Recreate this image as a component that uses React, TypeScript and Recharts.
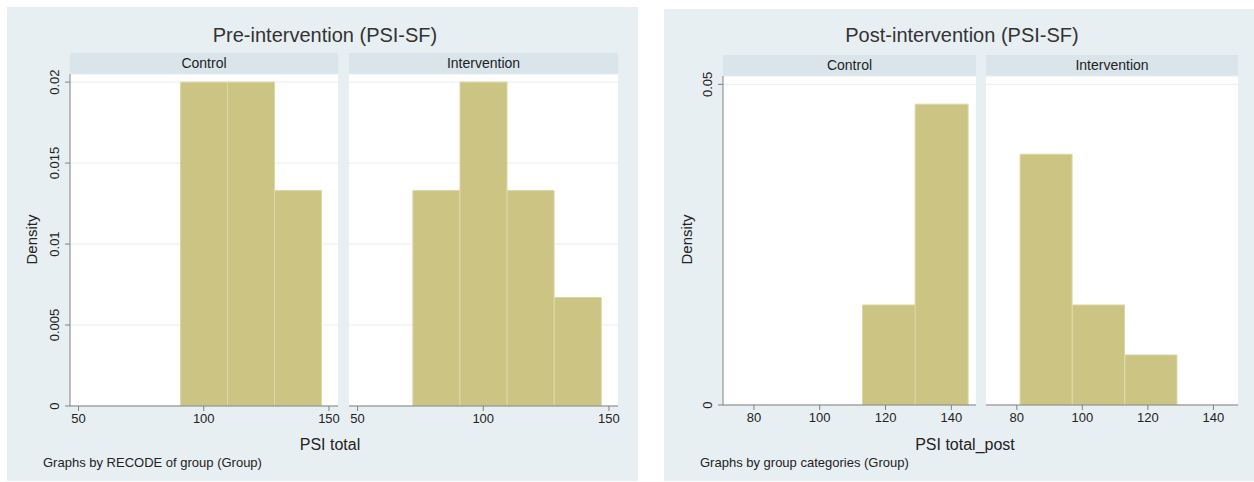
import React from 'react';
import { BarChart, Bar, XAxis, YAxis, CartesianGrid } from 'recharts';

// histogram bins (midpoints) and densities
const preBins = [81.375, 100.125, 118.875, 137.625];
const preControl = [0, 0.02, 0.02, 0.0133];
const preIntervention = [0.0133, 0.02, 0.0133, 0.0067];
const postBins = [89, 105, 121, 137];
const postControl = [0, 0, 0.0156, 0.0469];
const postIntervention = [0.0391, 0.0156, 0.0078, 0];

const preTicksX = [50, 100, 150];
const postTicksX = [80, 100, 120, 140];
const preTicksY = [0, 0.005, 0.01, 0.015, 0.02];
const postTicksY = [0, 0.05];
const groups = ['Control', 'Intervention'];

const font = '"Liberation Sans", Arial, Helvetica, sans-serif';
const cardBg = '#e8eff2';
const stripBg = '#d9e5eb';
const barFill = '#cbc482';
const barEdge = '#dcd7a6';
const axisCol = '#808080';
const MT = 14; // room above plot so top tick label isn't cut

const YTick = (props: any) => {
  const { x, y, payload } = props;
  return (
    <text x={x} y={y} transform={`rotate(-90 ${x} ${y})`} textAnchor="middle" fontSize={13} fill="#222" fontFamily={font}>
      {String(payload.value)}
    </text>
  );
};

function Facet({ plotLeft, plotTop, plotW, plotH, bins, values, xDomain, xTicks, yDomain, yTicks, showY }: any) {
  const yw = showY ? 60 : 0;
  const data = bins.map((b: number, i: number) => ({ mid: b, density: values[i] }));
  return (
    <div style={{ position: 'absolute', left: plotLeft - yw, top: plotTop - MT }}>
      <BarChart
        width={yw + plotW + 12}
        height={MT + plotH + 34}
        data={data}
        margin={{ top: MT, right: 12, left: 0, bottom: 0 }}
        barCategoryGap={0}
        barGap={0}
      >
        <CartesianGrid vertical={false} stroke="#e6eef1" fill="#ffffff" />
        <XAxis
          dataKey="mid"
          type="number"
          domain={xDomain}
          ticks={xTicks}
          allowDataOverflow
          height={34}
          tickSize={5}
          tickMargin={3}
          stroke={axisCol}
          tick={{ fontSize: 13, fill: '#222', fontFamily: font }}
          interval={0}
        />
        <YAxis
          hide={!showY}
          type="number"
          domain={yDomain}
          ticks={yTicks}
          allowDataOverflow
          width={yw}
          tickSize={5}
          tickMargin={6}
          stroke={axisCol}
          tick={<YTick />}
          interval={0}
        />
        <Bar dataKey="density" fill={barFill} stroke={barEdge} strokeWidth={1} isAnimationActive={false} />
      </BarChart>
    </div>
  );
}

function Card({ left, top, width, height, title, titleCx, note, xLabel, xLabelCx, densityX, strips }: any) {
  return (
    <>
      <div style={{ position: 'absolute', left, top, width, height, background: cardBg }} />
      <div style={{ position: 'absolute', left: titleCx - 200, width: 400, top: 24, textAlign: 'center', fontSize: 20, color: '#333', fontFamily: font }}>
        {title}
      </div>
      {strips.map((s: any, i: number) => (
        <div key={i} style={{ position: 'absolute', left: s.x, top: s.y, width: s.w, height: s.h, background: stripBg, textAlign: 'center', fontSize: 14, lineHeight: `${s.h}px`, color: '#222', fontFamily: font }}>
          {groups[i]}
        </div>
      ))}
      <div style={{ position: 'absolute', left: densityX - 50, top: 231, width: 100, textAlign: 'center', fontSize: 15, color: '#222', fontFamily: font, transform: 'rotate(-90deg)' }}>
        Density
      </div>
      <div style={{ position: 'absolute', left: xLabelCx - 100, width: 200, top: 436, textAlign: 'center', fontSize: 16, color: '#222', fontFamily: font }}>
        {xLabel}
      </div>
      <div style={{ position: 'absolute', left: left + 36, top: 455, fontSize: 13, color: '#222', fontFamily: font, whiteSpace: 'nowrap' }}>
        {note}
      </div>
    </>
  );
}

export default function App() {
  return (
    <div style={{ position: 'absolute', left: 0, top: 0, width: 1254, height: 482, background: '#ffffff', overflow: 'hidden' }}>
      <Card
        left={7} top={7} width={631} height={474}
        title="Pre-intervention (PSI-SF)" titleCx={325}
        note="Graphs by RECODE of group (Group)"
        xLabel="PSI total" xLabelCx={330}
        densityX={31}
        strips={[{ x: 70, y: 53, w: 268, h: 21 }, { x: 349, y: 53, w: 269, h: 21 }]}
      />
      <Card
        left={664} top={9} width={590} height={472}
        title="Post-intervention (PSI-SF)" titleCx={962}
        note="Graphs by group categories (Group)"
        xLabel="PSI total_post" xLabelCx={965}
        densityX={686}
        strips={[{ x: 723, y: 55, w: 253, h: 21 }, { x: 986, y: 55, w: 252, h: 21 }]}
      />
      <Facet plotLeft={70} plotTop={74} plotW={268} plotH={332} bins={preBins} values={preControl}
        xDomain={[46.6, 153.6]} xTicks={preTicksX} yDomain={[0, 0.0205]} yTicks={preTicksY} showY />
      <Facet plotLeft={349} plotTop={74} plotW={269} plotH={332} bins={preBins} values={preIntervention}
        xDomain={[46.6, 153.6]} xTicks={preTicksX} yDomain={[0, 0.0205]} yTicks={preTicksY} showY={false} />
      <Facet plotLeft={723} plotTop={76} plotW={253} plotH={329} bins={postBins} values={postControl}
        xDomain={[70.6, 147.5]} xTicks={postTicksX} yDomain={[0, 0.0513]} yTicks={postTicksY} showY />
      <Facet plotLeft={986} plotTop={76} plotW={252} plotH={329} bins={postBins} values={postIntervention}
        xDomain={[70.6, 147.5]} xTicks={postTicksX} yDomain={[0, 0.0513]} yTicks={postTicksY} showY={false} />
    </div>
  );
}
